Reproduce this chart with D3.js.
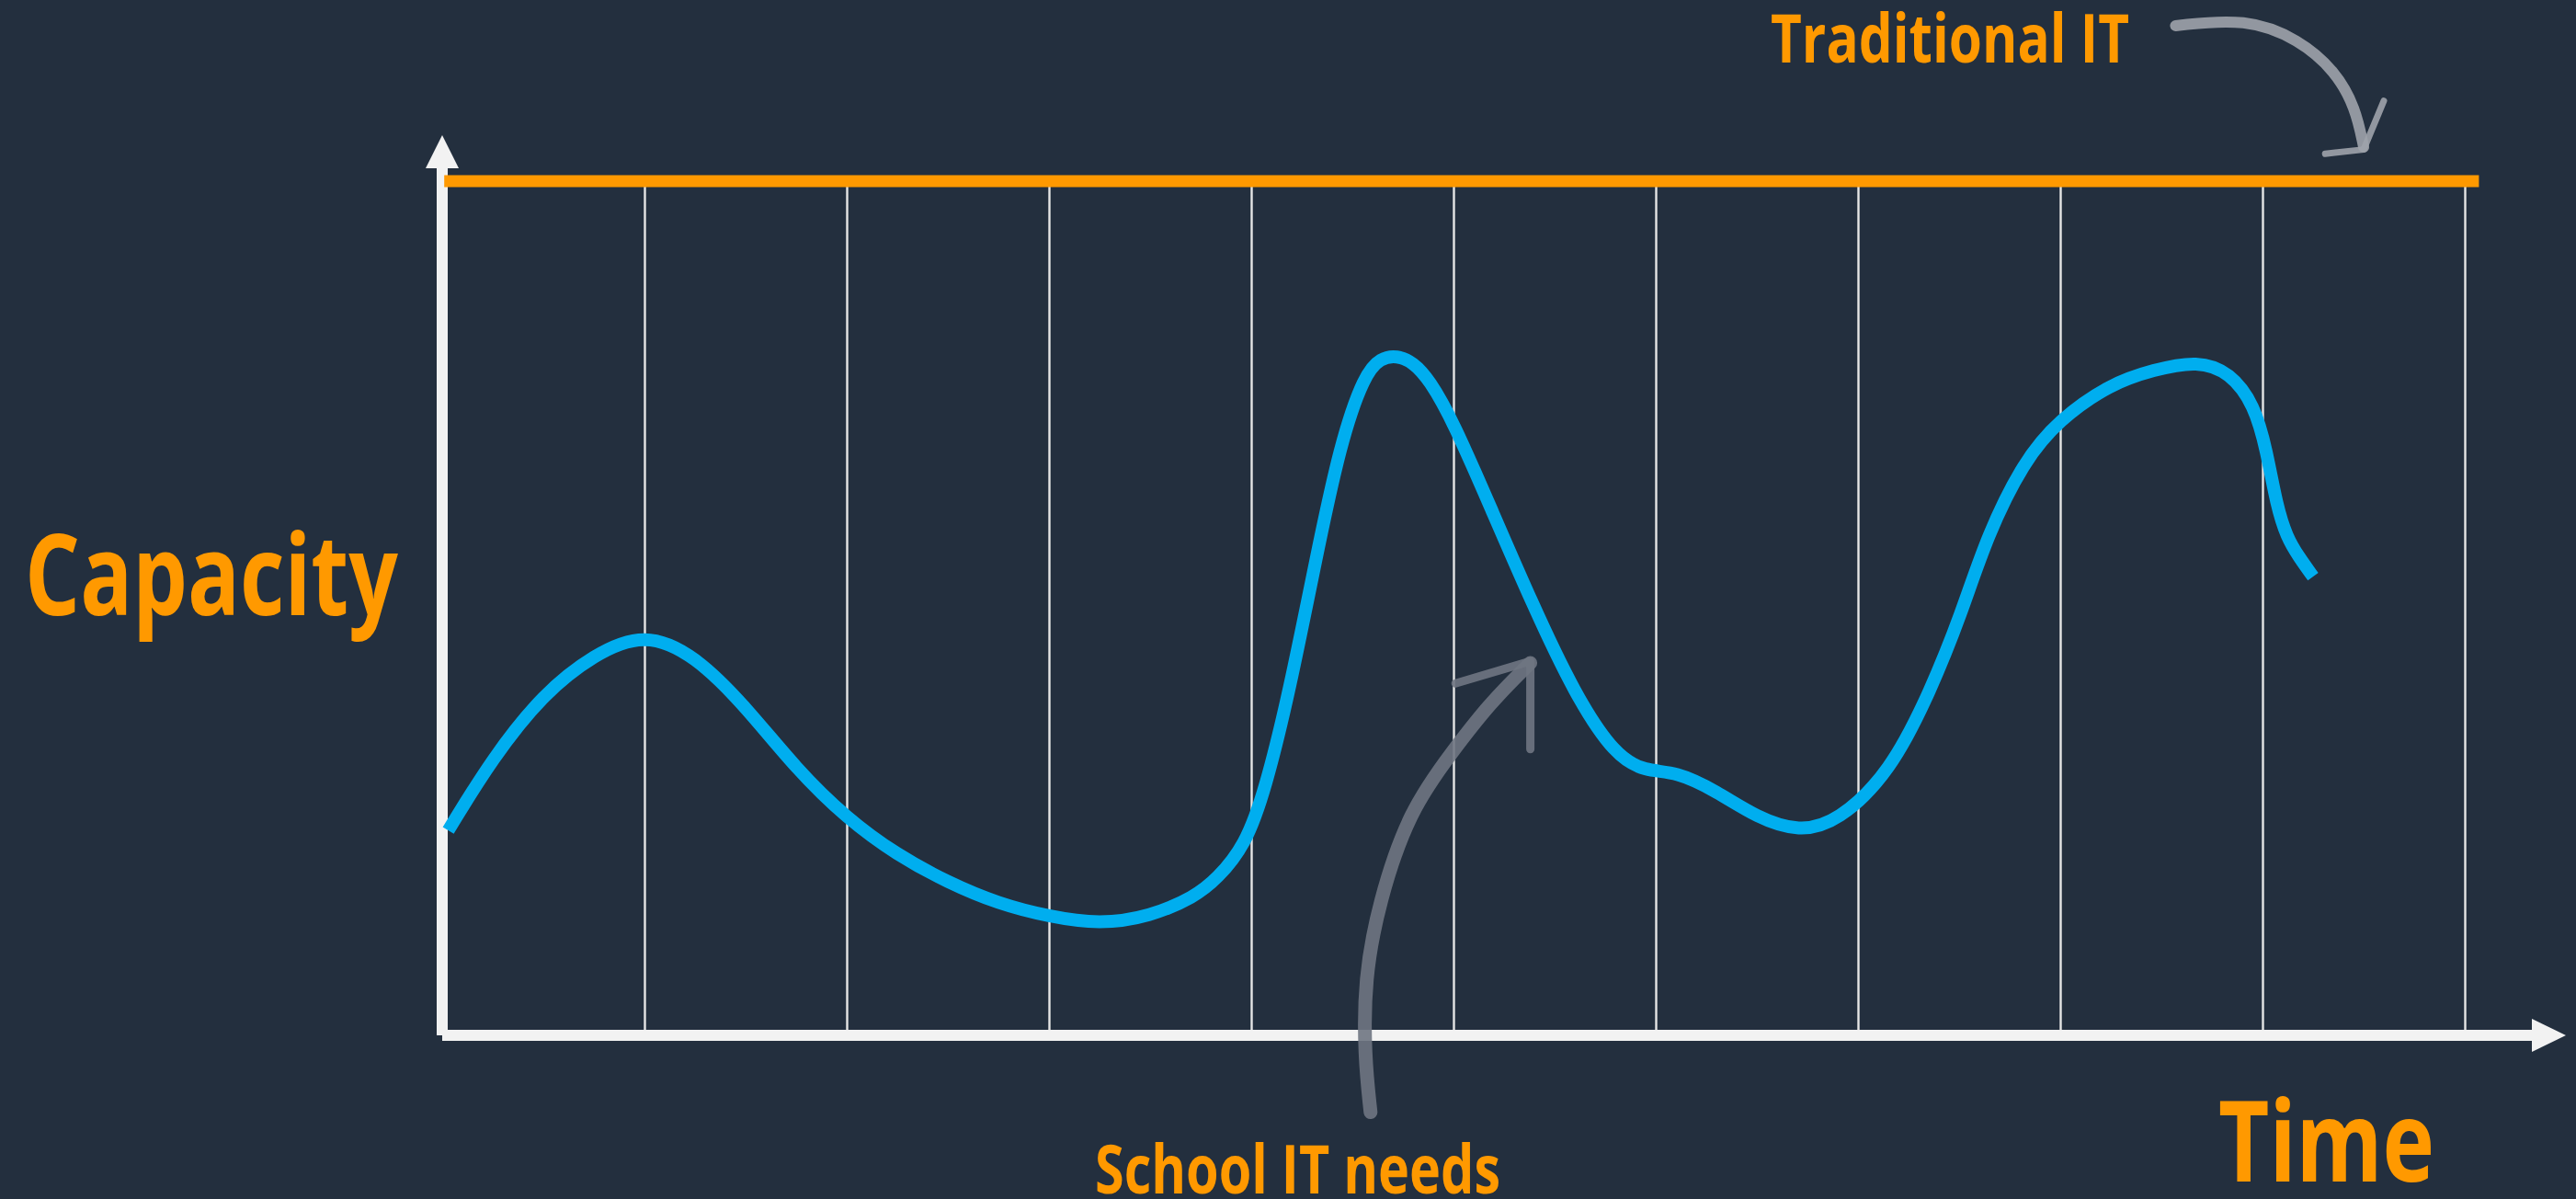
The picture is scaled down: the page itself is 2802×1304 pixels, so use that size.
<!DOCTYPE html>
<html>
<head>
<meta charset="utf-8">
<script src="https://cdn.jsdelivr.net/npm/d3@7"></script>
<style>
    body { margin: 0; background: #232f3e; }
    svg { display: block; }
</style>
</head>
<body>
<script>
// time in grid units (0..10), capacity in % of traditional IT capacity
var gridTicks = [1, 2, 3, 4, 5, 6, 7, 8, 9, 10];
var traditionalT = [0.01, 10.07];
var traditionalV = [100, 100];
var schoolT = [0.03, 0.25, 0.5, 0.75, 1.0, 1.25, 1.5, 1.75, 2.0, 2.25, 2.5, 2.75, 3.0, 3.25, 3.5, 3.72, 3.83, 3.97,
    4.07, 4.19, 4.32, 4.44, 4.56, 4.64, 4.72, 4.8, 4.88, 5.0, 5.18, 5.39, 5.6, 5.8, 5.95, 6.1, 6.3, 6.5, 6.71, 6.9,
    7.16, 7.36, 7.51, 7.64, 7.82, 7.99, 8.25, 8.46, 8.68, 8.84, 8.96, 9.02, 9.07, 9.12, 9.18, 9.25];
var schoolV = [24.0, 32.5, 40.0, 44.6, 47.2, 44.5, 38.5, 31.2, 25.4, 21.1, 17.9, 15.4, 13.9, 13.0, 13.9, 16.2, 18.3, 22.2,
    28.8, 40.4, 55.8, 69.3, 77.4, 79.3, 79.6, 78.8, 76.8, 71.8, 62.0, 50.5, 39.9, 32.7, 30.9, 30.9, 28.6, 25.5, 23.8, 25.0,
    30.8, 40.4, 49.3, 58.6, 67.2, 72.0, 76.3, 77.9, 79.0, 77.6, 73.8, 68.5, 62.0, 58.3, 56.0, 53.7];

// hand-drawn pointer arrows, same units as the chart
var tradArrowT = [8.57, 8.92, 9.18, 9.36, 9.46, 9.5];
var tradArrowV = [118.2, 119.1, 116.6, 112.9, 108.6, 104.0];
var tradHeadT = [9.6, 9.5, 9.31];
var tradHeadV = [109.4, 103.7, 103.2];
var schoolArrowT = [4.59, 4.56, 4.56, 4.63, 4.78, 5.0, 5.18, 5.38];
var schoolArrowV = [-9.0, -2.4, 6.6, 15.5, 26.3, 33.4, 38.9, 43.6];
var schoolHeadT = [5.01, 5.38, 5.38];
var schoolHeadV = [41.2, 43.8, 33.5];

buildIt();

function buildIt() {
    var w = 2802;
    var h = 1304;

    var svg = d3.select("body")
        .append("svg")
        .attr("width", w)
        .attr("height", h);

    svg.append("rect")
        .attr("width", w)
        .attr("height", h)
        .attr("fill", "#232f3e");

    var xScale = d3.scaleLinear()
        .domain([0, 10])
        .range([481, 2681]);

    var yScale = d3.scaleLinear()
        .domain([0, 100])
        .range([1126, 197]);

    // vertical grid
    var grid = d3.axisBottom()
        .scale(xScale)
        .tickValues(gridTicks)
        .tickSize(-(yScale(0) - yScale(100)))
        .tickFormat("");

    svg.append("g")
        .attr("class", "grid")
        .attr("transform", "translate(0," + yScale(0) + ")")
        .call(grid)
        .call(function(g) { g.select(".domain").remove(); })
        .selectAll("line")
        .attr("stroke", "#e6e6e6")
        .attr("stroke-width", 2.4);

    // axes with arrow heads
    var axisColor = "#f2f2f2";
    svg.append("line")
        .attr("x1", xScale(0))
        .attr("x2", xScale(0))
        .attr("y1", yScale(0))
        .attr("y2", yScale(100) - 14)
        .attr("stroke", axisColor)
        .attr("stroke-width", 12);

    svg.append("path")
        .attr("d", "M" + (xScale(0) - 18) + "," + (yScale(100) - 14) +
            "L" + xScale(0) + "," + (yScale(100) - 50) +
            "L" + (xScale(0) + 18) + "," + (yScale(100) - 14) + "Z")
        .attr("fill", axisColor);

    svg.append("line")
        .attr("x1", xScale(0))
        .attr("x2", xScale(10) + 73)
        .attr("y1", yScale(0))
        .attr("y2", yScale(0))
        .attr("stroke", axisColor)
        .attr("stroke-width", 12);

    svg.append("path")
        .attr("d", "M" + (xScale(10) + 73) + "," + (yScale(0) - 18) +
            "L" + (xScale(10) + 110) + "," + yScale(0) +
            "L" + (xScale(10) + 73) + "," + (yScale(0) + 18) + "Z")
        .attr("fill", axisColor);

    var line = d3.line()
        .x(function(d) { return xScale(d[0]); })
        .y(function(d) { return yScale(d[1]); });

    // traditional IT capacity
    svg.append("path")
        .datum(d3.zip(traditionalT, traditionalV))
        .attr("d", line)
        .attr("fill", "none")
        .attr("stroke", "#ff9900")
        .attr("stroke-width", 13);

    // school IT needs
    svg.append("path")
        .datum(d3.zip(schoolT, schoolV))
        .attr("d", line.curve(d3.curveBasis))
        .attr("fill", "none")
        .attr("stroke", "#00aeef")
        .attr("stroke-width", 14);

    // chalk arrows
    var straight = d3.line()
        .x(function(d) { return xScale(d[0]); })
        .y(function(d) { return yScale(d[1]); });

    function chalk(pts, color, width, curved) {
        svg.append("path")
            .datum(pts)
            .attr("d", curved ? straight.curve(d3.curveBasis) : straight.curve(d3.curveLinear))
            .attr("fill", "none")
            .attr("stroke", color)
            .attr("stroke-width", width)
            .attr("stroke-linecap", "round")
            .attr("stroke-linejoin", "round")
            .attr("opacity", 0.9);
    }

    chalk(d3.zip(tradArrowT, tradArrowV), "#9ea3ab", 12, true);
    chalk(d3.zip(tradHeadT, tradHeadV), "#9ea3ab", 7, false);
    chalk(d3.zip(schoolArrowT, schoolArrowV), "#6f7682", 15, true);
    chalk(d3.zip(schoolHeadT, schoolHeadV), "#6f7682", 9, false);

    // labels
    var labels = [
        { text: "Capacity", x: 27, y: 669, size: 122, len: 406 },
        { text: "Time", x: 2413, y: 1285, size: 122, len: 235 },
        { text: "Traditional IT", x: 1926, y: 68, size: 74, len: 390 },
        { text: "School IT needs", x: 1191, y: 1298, size: 74, len: 441 }
    ];

    svg.selectAll("text.lbl")
        .data(labels)
        .enter()
        .append("text")
        .attr("class", "lbl")
        .attr("x", function(d) { return d.x; })
        .attr("y", function(d) { return d.y; })
        .attr("textLength", function(d) { return d.len; })
        .attr("lengthAdjust", "spacingAndGlyphs")
        .attr("font-family", "'Open Sans', sans-serif")
        .attr("font-weight", "bold")
        .attr("font-size", function(d) { return d.size + "px"; })
        .attr("fill", "#ff9900")
        .text(function(d) { return d.text; });
}
</script>
</body>
</html>
